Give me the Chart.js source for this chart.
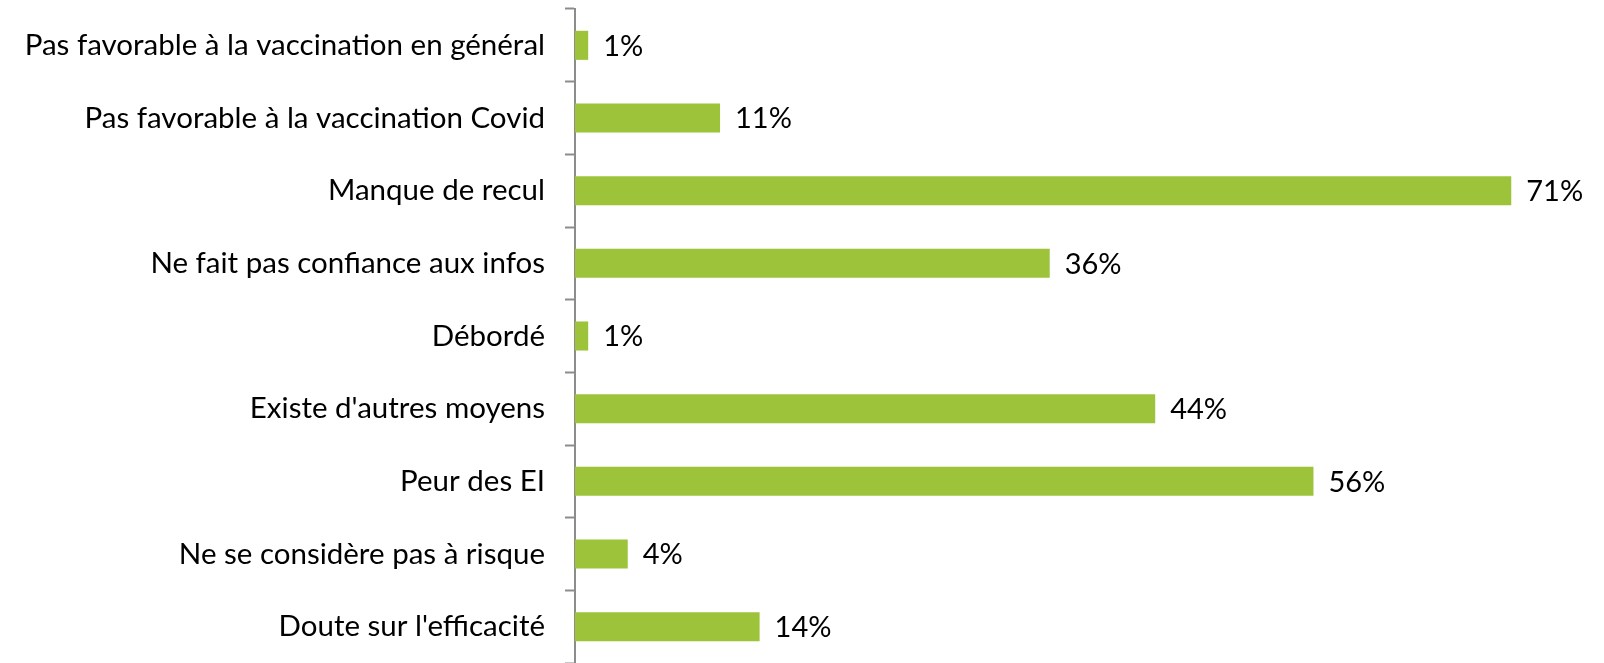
<!DOCTYPE html>
<html>
<head>
<meta charset="utf-8">
<script src="https://cdn.jsdelivr.net/npm/chart.js@4"></script>
<style>
  html, body { margin: 0; padding: 0; background: #fff; overflow: hidden; }
  #wrap { width: 1604px; height: 663px; }
</style>
</head>
<body>
<div id="wrap"><canvas id="raisonsChart" width="1604" height="663"></canvas></div>
<script>
// catégories (de haut en bas) et pourcentages
const categories = [
    "Pas favorable à la vaccination en général",
    "Pas favorable à la vaccination Covid",
    "Manque de recul",
    "Ne fait pas confiance aux infos",
    "Débordé",
    "Existe d'autres moyens",
    "Peur des EI",
    "Ne se considère pas à risque",
    "Doute sur l'efficacité"
];
const percents = [1, 11, 71, 36, 1, 44, 56, 4, 14];
const valueLabels = ["1%", "11%", "71%", "36%", "1%", "44%", "56%", "4%", "14%"];

const FONT = 'Lato, "Open Sans", sans-serif';

// petit plugin pour écrire les % au bout des barres
const barValues = {
    id: 'barValues',
    afterDatasetsDraw(chart) {
        const ctx = chart.ctx;
        const meta = chart.getDatasetMeta(0);
        ctx.save();
        ctx.font = '29px ' + FONT;
        ctx.fillStyle = '#000';
        ctx.textAlign = 'left';
        ctx.textBaseline = 'middle';
        meta.data.forEach((bar, i) => {
            ctx.fillText(valueLabels[i], bar.x + 15, bar.y + 1);
        });
        ctx.restore();
    }
};

new Chart(document.getElementById('raisonsChart'), {
    type: 'bar',
    data: {
        labels: categories,
        datasets: [{
            data: percents,
            backgroundColor: '#9DC33B',
            borderWidth: 0,
            categoryPercentage: 1,
            barPercentage: 0.4
        }]
    },
    options: {
        indexAxis: 'y',
        responsive: false,
        animation: false,
        devicePixelRatio: 1,
        layout: { padding: { top: 9, right: 40, bottom: 0, left: 0 } },
        plugins: {
            legend: { display: false },
            tooltip: { enabled: false }
        },
        scales: {
            x: {
                display: false,
                min: 0,
                max: 75
            },
            y: {
                afterFit(scale) {
                    scale.width = 575;
                    scale.paddingTop = 0;
                    scale.paddingBottom = 0;
                },
                border: { display: true, color: '#8C8C8C', width: 2 },
                grid: {
                    drawOnChartArea: false,
                    drawTicks: true,
                    tickLength: 10,
                    tickWidth: 2,
                    tickColor: '#8C8C8C',
                    offset: true
                },
                ticks: {
                    color: '#000',
                    padding: 20,
                    font: { family: FONT, size: 29.5 }
                }
            }
        }
    },
    plugins: [barValues]
});
</script>
</body>
</html>
